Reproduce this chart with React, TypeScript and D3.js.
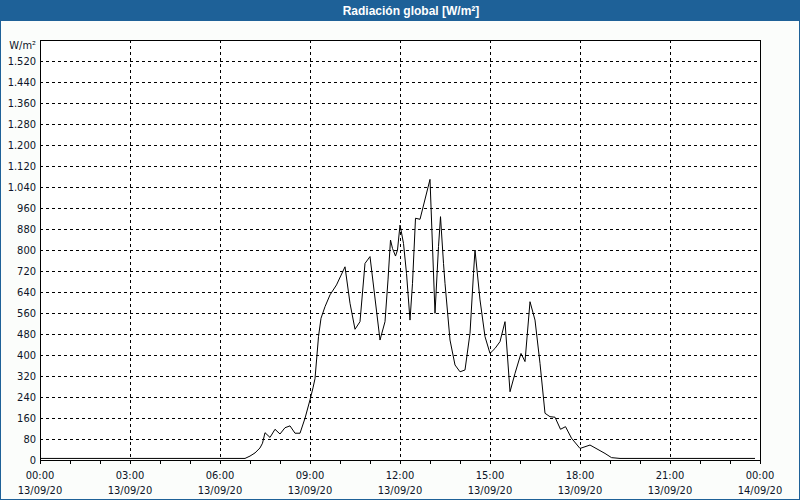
import React from "react";
import * as d3 from "d3";

// Minutes since 13/09/20 00:00
const times: number[] = [
  0, 410, 420, 430, 440, 445, 450, 460, 470, 480, 490, 500, 510, 520, 530, 540,
  546, 550, 557, 562, 570, 580, 593, 610, 620, 630, 640, 650, 660, 680, 690,
  696, 701, 705, 711, 715, 720, 722, 727, 733, 740, 745, 751, 760, 780, 790,
  797, 801, 807, 810, 820, 830, 840, 850, 860, 867, 870, 880, 890, 900, 910,
  920, 930, 940, 950, 962, 970, 980, 990, 1000, 1010, 1020, 1030, 1041, 1051,
  1063, 1080, 1100, 1130, 1143, 1160, 1430,
];
const values: number[] = [
  6, 6, 15, 27, 46, 64, 104, 86, 117, 99, 123, 130, 102, 102, 159, 229,
  275, 310, 470, 540, 584, 629, 667, 736, 597, 498, 527, 749, 775, 457, 527,
  686, 838, 806, 777, 800, 895, 876, 825, 711, 533, 673, 921, 917, 1069, 559,
  813, 927, 749, 673, 457, 362, 336, 343, 483, 711, 800, 610, 470, 406, 425,
  451, 527, 260, 330, 406, 375, 603, 533, 368, 178, 165, 163, 117, 127,
  83, 44, 57, 25, 9, 6, 6,
];

const yTicks: number[] = [0, 80, 160, 240, 320, 400, 480, 560, 640, 720, 800, 880, 960, 1040, 1120, 1200, 1280, 1360, 1440, 1520];
const xTickMinutes: number[] = [0, 180, 360, 540, 720, 900, 1080, 1260, 1440];
const xTickTimes: string[] = ["00:00", "03:00", "06:00", "09:00", "12:00", "15:00", "18:00", "21:00", "00:00"];
const xTickDates: string[] = ["13/09/20", "13/09/20", "13/09/20", "13/09/20", "13/09/20", "13/09/20", "13/09/20", "13/09/20", "14/09/20"];
const minorTickMinutes: number[] = d3.range(0, 1441, 60);

const title = "Radiación global [W/m²]";
const unitLabel = "W/m²";

const W = 800;
const H = 500;
const L = 40, R = 760, T = 40, B = 460;

const locale = d3.formatLocale({ decimal: ",", thousands: ".", grouping: [3], currency: ["", ""] });
const fmt = locale.format(",d");

export default function App() {
  const x = d3.scaleLinear().domain([0, 1440]).range([L, R]);
  const y = d3.scaleLinear().domain([0, 1600]).range([B, T]);
  const pts: [number, number][] = times.map((t, i) => [t, values[i]]);
  const line = d3.line<[number, number]>().x((d) => x(d[0])).y((d) => y(d[1]));
  const font = "Tahoma, 'DejaVu Sans Condensed', 'Liberation Sans', sans-serif";
  const textColor = "#0c1428";

  return (
    <div style={{ position: "fixed", left: 0, top: 0, width: W, height: H }}>
      <svg width={W} height={H} style={{ display: "block" }}>
        <rect x={0} y={0} width={W} height={H} fill="#fbfdfb" />
        <rect x={0} y={0} width={W} height={21} fill="#1e6198" />
        <rect x={0.5} y={0.5} width={W - 1} height={H - 1} fill="none" stroke="#1e6198" />
        <text x={411} y={11} fill="#ffffff" fontFamily="'Liberation Sans', sans-serif" fontWeight="bold" fontSize={12} textAnchor="middle" dominantBaseline="central">
          {title}
        </text>
        <rect x={L} y={T} width={R - L} height={B - T} fill="#ffffff" />
        {/* horizontal grid */}
        {yTicks.filter((v) => v > 0).map((v) => (
          <line key={"hg" + v} x1={L} x2={R} y1={Math.round(y(v)) + 0.5} y2={Math.round(y(v)) + 0.5} stroke="#000" strokeWidth={1} strokeDasharray="3,3" shapeRendering="crispEdges" />
        ))}
        {/* vertical grid */}
        {xTickMinutes.filter((m) => m > 0 && m < 1440).map((m) => (
          <line key={"vg" + m} x1={Math.round(x(m)) + 0.5} x2={Math.round(x(m)) + 0.5} y1={T} y2={B} stroke="#000" strokeWidth={1} strokeDasharray="3,3" shapeRendering="crispEdges" />
        ))}
        {/* minor ticks */}
        {minorTickMinutes.map((m) => (
          <line key={"mt" + m} x1={Math.round(x(m)) + 0.5} x2={Math.round(x(m)) + 0.5} y1={B} y2={B + 4} stroke="#000" strokeWidth={1} shapeRendering="crispEdges" />
        ))}
        {/* frame */}
        <rect x={L + 0.5} y={T + 0.5} width={R - L} height={B - T} fill="none" stroke="#000" strokeWidth={1} shapeRendering="crispEdges" />
        {/* data */}
        <path d={line(pts) || ""} fill="none" stroke="#000" strokeWidth={1} strokeLinejoin="miter" />
        {/* y labels */}
        {yTicks.map((v) => (
          <text key={"yl" + v} x={36} y={y(v)} fontFamily={font} fontSize={11} fill={textColor} textAnchor="end" dominantBaseline="central">
            {fmt(v)}
          </text>
        ))}
        <text x={36} y={45} fontFamily={font} fontSize={11} fill={textColor} textAnchor="end" dominantBaseline="central">
          {unitLabel}
        </text>
        {/* x labels */}
        {xTickMinutes.map((m, i) => (
          <g key={"xl" + m}>
            <text x={x(m)} y={475} fontFamily={font} fontSize={11} fill={textColor} textAnchor="middle" dominantBaseline="central">
              {xTickTimes[i]}
            </text>
            <text x={x(m)} y={490} fontFamily={font} fontSize={11} fill={textColor} textAnchor="middle" dominantBaseline="central">
              {xTickDates[i]}
            </text>
          </g>
        ))}
      </svg>
    </div>
  );
}
